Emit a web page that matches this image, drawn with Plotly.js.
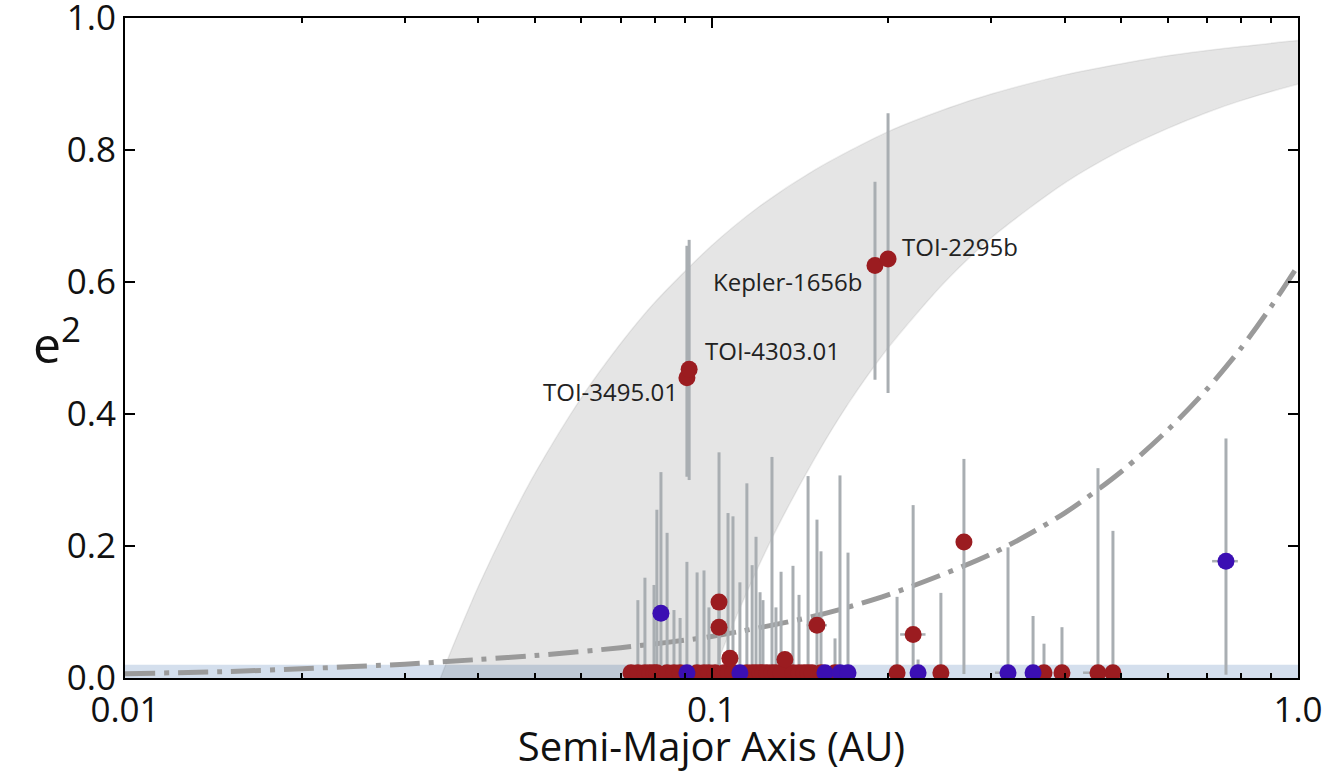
<!DOCTYPE html>
<html>
<head>
<meta charset="utf-8">
<script src="https://cdn.plot.ly/plotly-3.0.1.min.js"></script>
<style>html,body{margin:0;padding:0;background:#fff;}#chart{width:1336px;height:773px;}</style>
</head>
<body>
<div id="chart"></div>
<script>
// ---- Data ----
// Gray band (high-eccentricity migration region): upper and lower edges
var bandUpperA = [0.0345, 0.036, 0.038, 0.04, 0.045, 0.05, 0.06, 0.07, 0.08, 0.1, 0.12, 0.15, 0.2, 0.25, 0.3, 0.4, 0.5, 0.6, 0.7, 0.8, 1.0, 1.2];
var bandUpperE = [0.0, 0.042, 0.092, 0.138, 0.233, 0.31, 0.425, 0.507, 0.569, 0.655, 0.713, 0.77, 0.828, 0.862, 0.885, 0.914, 0.931, 0.943, 0.951, 0.957, 0.966, 0.971];
var bandLowerA = [0.1, 0.105, 0.11, 0.12, 0.13, 0.15, 0.17, 0.2, 0.25, 0.3, 0.4, 0.5, 0.6, 0.7, 0.8, 1.0, 1.2];
var bandLowerE = [0.0, 0.048, 0.091, 0.167, 0.231, 0.333, 0.412, 0.5, 0.6, 0.667, 0.75, 0.8, 0.833, 0.857, 0.875, 0.9, 0.917];

// Dash-dot curve
var curveA = [0.01, 0.015, 0.02, 0.03, 0.04, 0.05, 0.07, 0.1, 0.15, 0.2, 0.3, 0.4, 0.5, 0.6, 0.7, 0.8, 0.9, 1.0];
var curveE = [0.0065, 0.0098, 0.014, 0.021, 0.028, 0.034, 0.046, 0.063, 0.094, 0.126, 0.188, 0.25, 0.313, 0.376, 0.438, 0.5, 0.563, 0.625];

// Red planets
var redA = [0.0729, 0.0749, 0.0770, 0.0785, 0.0798, 0.0807, 0.0840, 0.0863, 0.0884, 0.0945, 0.0971, 0.0990, 0.1014, 0.1050,
            0.1067, 0.1088, 0.1149, 0.1173, 0.1191, 0.1210, 0.1224, 0.1243, 0.1268, 0.1288, 0.1314, 0.1377, 0.1410, 0.1438,
            0.1461, 0.1484, 0.1537, 0.1624, 0.2072, 0.2461, 0.3689, 0.3959, 0.4560, 0.4836,
            0.0908, 0.0916, 0.1030, 0.1030, 0.1075, 0.1334, 0.1513, 0.1900, 0.2000, 0.2207, 0.2694];
var redE = [0.008, 0.008, 0.008, 0.008, 0.008, 0.008, 0.008, 0.008, 0.008, 0.008, 0.008, 0.008, 0.008, 0.008,
            0.008, 0.008, 0.008, 0.008, 0.008, 0.008, 0.008, 0.008, 0.008, 0.008, 0.008, 0.008, 0.008, 0.008,
            0.008, 0.008, 0.008, 0.008, 0.008, 0.008, 0.008, 0.008, 0.008, 0.008,
            0.455, 0.468, 0.115, 0.077, 0.030, 0.028, 0.080, 0.625, 0.635, 0.066, 0.206];
var redPlus = [0, 0.110, 0.144, 0, 0.133, 0.247, 0.212, 0.095, 0.083, 0.152, 0.155, 0.099, 0, 0,
               0.242, 0.237, 0.287, 0.163, 0.206, 0.122, 0.110, 0, 0.327, 0.099, 0.153, 0.162, 0.118, 0,
               0.298, 0, 0.184, 0.052, 0.115, 0.121, 0.044, 0.069, 0.310, 0.215,
               0.200, 0.196, 0.227, 0.050, 0, 0, 0.160, 0.127, 0.221, 0.196, 0.126];
var redMinus = [0, 0.008, 0.008, 0, 0.008, 0.008, 0.008, 0.008, 0.008, 0.008, 0.008, 0.008, 0, 0,
                0.008, 0.008, 0.008, 0.008, 0.008, 0.008, 0.008, 0, 0.008, 0.008, 0.008, 0.008, 0.008, 0,
                0.008, 0, 0.008, 0.008, 0.008, 0.008, 0.008, 0.008, 0.008, 0.008,
                0.150, 0.168, 0.110, 0.070, 0, 0, 0.070, 0.173, 0.203, 0.060, 0.200];
var redXMinus = [0, 0, 0, 0, 0, 0, 0, 0, 0, 0, 0, 0, 0, 0,
                 0, 0, 0, 0, 0, 0, 0, 0, 0, 0, 0, 0, 0, 0,
                 0, 0, 0, 0, 0, 0, 0, 0, 0.026, 0,
                 0, 0, 0, 0, 0, 0, 0.006, 0, 0, 0.011, 0];
var redXPlus = [0, 0, 0, 0, 0, 0, 0, 0, 0, 0, 0, 0, 0, 0,
                0, 0, 0, 0, 0, 0, 0, 0, 0, 0, 0, 0, 0, 0,
                0, 0, 0, 0, 0, 0, 0, 0, 0, 0,
                0, 0, 0, 0, 0, 0, 0.006, 0, 0.004, 0.011, 0];

// Blue planets
var blueA = [0.0820, 0.0908, 0.1118, 0.1561, 0.1656, 0.1709, 0.2250, 0.3203, 0.3534, 0.7537];
var blueE = [0.098, 0.008, 0.008, 0.008, 0.008, 0.008, 0.008, 0.008, 0.008, 0.177];
var bluePlus = [0.214, 0.168, 0.137, 0, 0.299, 0.182, 0.020, 0.190, 0.086, 0.186];
var blueMinus = [0.095, 0.008, 0.008, 0, 0.008, 0.008, 0.008, 0.008, 0.008, 0.172];
var blueXMinus = [0, 0, 0, 0, 0, 0, 0, 0.016, 0, 0.040];
var blueXPlus = [0, 0, 0, 0, 0, 0, 0, 0.010, 0, 0.036];

// Labelled planets
var labelText = ['TOI-2295b', 'Kepler-1656b', 'TOI-4303.01', 'TOI-3495.01'];
var labelA = [0.2000, 0.1900, 0.0916, 0.0908];
var labelE = [0.635, 0.625, 0.468, 0.455];

// Axis ticks
var xTickVals = [0.01, 0.1, 1];
var xTickText = ['0.01', '0.1', '1.0'];
var xMinorVals = [0.02, 0.03, 0.04, 0.05, 0.06, 0.07, 0.08, 0.09, 0.2, 0.3, 0.4, 0.5, 0.6, 0.7, 0.8, 0.9];
var yTickVals = [0, 0.2, 0.4, 0.6, 0.8, 1.0];
var yTickText = ['0.0', '0.2', '0.4', '0.6', '0.8', '1.0'];
var yTitleText = 'e<sup>2</sup>';

// ---- Styling ----
var RED = '#9b1c20';
var BLUE = '#3b0fb3';
var ERR = '#a9aeb2';
var FONT = 'Open Sans, Lato, DejaVu Sans, sans-serif';

var bandX = bandUpperA.concat(bandLowerA.slice().reverse());
var bandY = bandUpperE.concat(bandLowerE.slice().reverse());

var traces = [
  {
    x: bandX, y: bandY, type: 'scatter', mode: 'lines', fill: 'toself',
    fillcolor: 'rgba(0,0,0,0.1)', line: {color: 'rgba(0,0,0,0.07)', width: 1.5, shape: 'spline', smoothing: 0.8},
    hoverinfo: 'skip', showlegend: false
  },
  {
    x: curveA, y: curveE, type: 'scatter', mode: 'lines',
    line: {color: '#9a9a9a', width: 5, dash: '30px,9px,5px,9px', shape: 'spline', smoothing: 0.8},
    hoverinfo: 'skip', showlegend: false
  },
  {
    x: redA.concat(blueA), y: redE.concat(blueE), type: 'scatter', mode: 'markers',
    marker: {size: 2, opacity: 0, color: ERR},
    error_y: {type: 'data', symmetric: false, array: redPlus.concat(bluePlus), arrayminus: redMinus.concat(blueMinus),
              color: ERR, thickness: 3, width: 0},
    error_x: {type: 'data', symmetric: false, array: redXPlus.concat(blueXPlus), arrayminus: redXMinus.concat(blueXMinus),
              color: ERR, thickness: 2.5, width: 0},
    hoverinfo: 'skip', showlegend: false
  },
  {
    x: redA, y: redE, type: 'scatter', mode: 'markers',
    marker: {size: 17, color: RED, line: {width: 0}}, showlegend: false
  },
  {
    x: blueA, y: blueE, type: 'scatter', mode: 'markers',
    marker: {size: 17, color: BLUE, line: {width: 0}}, showlegend: false
  }
];

var labelShift = [[12, 12, 'left'], [-10, -16, 'right'], [14, 19, 'left'], [-7, -14, 'right']];
var annotations = labelText.map(function (t, i) {
  return {
    x: Math.log10(labelA[i]), y: labelE[i], xref: 'x', yref: 'y', text: t, showarrow: false,
    xanchor: labelShift[i][2], yanchor: 'middle', xshift: labelShift[i][0], yshift: labelShift[i][1],
    font: {family: FONT, size: 24, color: '#222'}
  };
});
// y-axis title (upright, as in the reference)
annotations.push({
  xref: 'paper', yref: 'paper', x: -0.058, y: 0.51, xanchor: 'center', yanchor: 'middle',
  text: yTitleText, showarrow: false, font: {family: FONT, size: 50, color: '#111'}
});

var layout = {
  width: 1336, height: 773,
  margin: {l: 125, r: 38, t: 18, b: 95},
  paper_bgcolor: '#fff', plot_bgcolor: '#fff',
  font: {family: FONT, color: '#111'},
  showlegend: false,
  xaxis: {
    type: 'log', range: [-2, 0], automargin: false,
    tickmode: 'array', tickvals: xTickVals, ticktext: xTickText,
    ticks: 'inside', ticklen: 10, tickwidth: 2, tickcolor: '#000',
    minor: {tickmode: 'array', tickvals: xMinorVals, ticks: 'inside', ticklen: 5, tickwidth: 2, tickcolor: '#000', showgrid: false},
    showline: true, linecolor: '#000', linewidth: 2, mirror: 'ticks',
    showgrid: false, zeroline: false, ticklabeloverflow: 'allow',
    tickfont: {family: FONT, size: 35, color: '#111'},
    title: {text: 'Semi-Major Axis (AU)', font: {family: FONT, size: 40, color: '#111'}, standoff: 8}
  },
  yaxis: {
    range: [0, 1.0002], automargin: false,
    tickmode: 'array', tickvals: yTickVals, ticktext: yTickText,
    ticks: 'inside', ticklen: 10, tickwidth: 2, tickcolor: '#000',
    showline: true, linecolor: '#000', linewidth: 2, mirror: 'ticks',
    showgrid: false, zeroline: false, ticklabeloverflow: 'allow',
    tickfont: {family: FONT, size: 35, color: '#111'}
  },
  shapes: [{
    type: 'rect', xref: 'paper', yref: 'y', x0: 0, x1: 1, y0: 0, y1: 0.02,
    fillcolor: 'rgba(176,196,222,0.55)', line: {width: 0}, layer: 'below'
  }],
  annotations: annotations
};

Plotly.newPlot('chart', traces, layout, {displayModeBar: false, staticPlot: true});
</script>
</body>
</html>
